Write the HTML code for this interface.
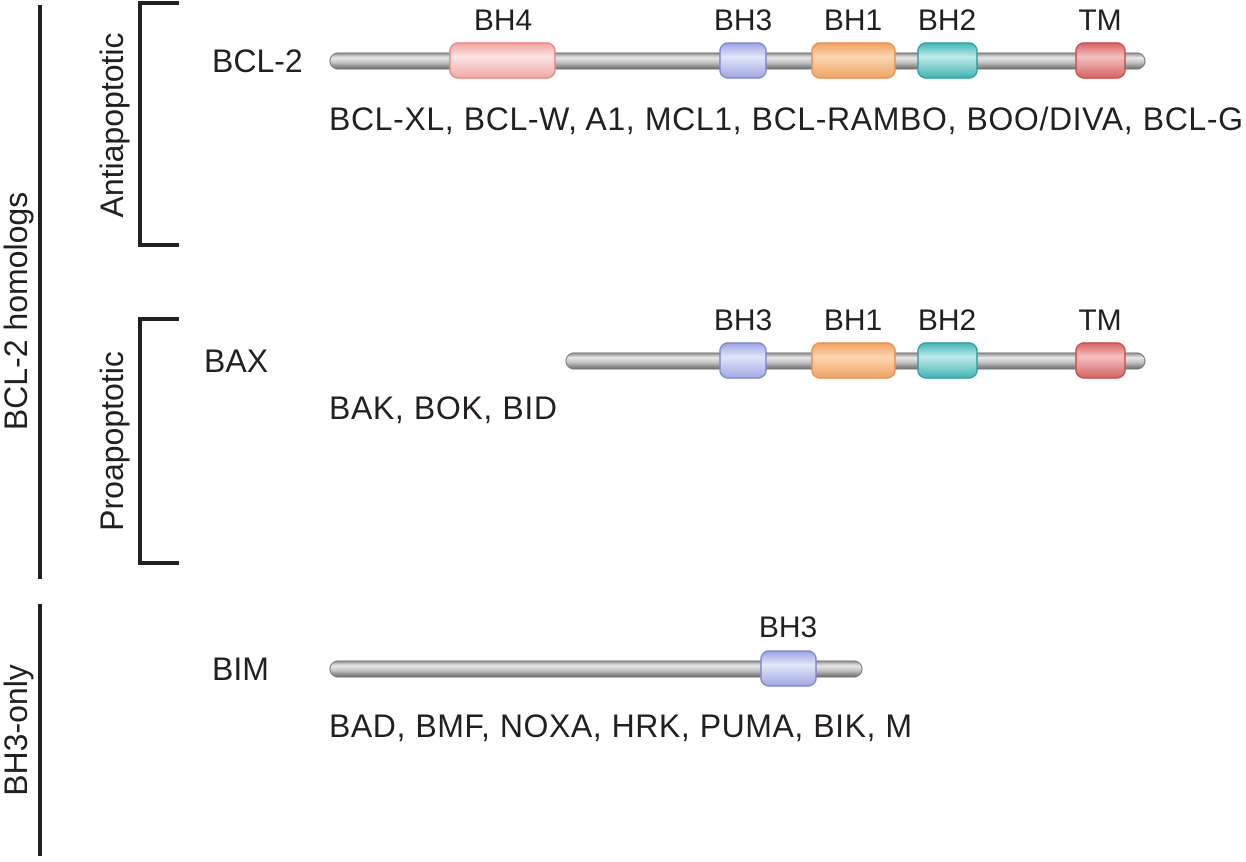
<!DOCTYPE html>
<html><head><style>
body{margin:0;background:#fff}
svg text{font-family:"Liberation Sans",sans-serif;fill:#231f20}
</style></head><body>
<svg width="1246" height="857" viewBox="0 0 1246 857" xmlns="http://www.w3.org/2000/svg">
<defs>
<linearGradient id="rod" x1="0" y1="0" x2="0" y2="1">
<stop offset="0" stop-color="#8a8a8a"/><stop offset="0.3" stop-color="#e8e8e8"/><stop offset="0.6" stop-color="#c4c4c4"/><stop offset="1" stop-color="#6e6e6e"/></linearGradient>
<linearGradient id="pk" x1="0" y1="0" x2="0" y2="1"><stop offset="0" stop-color="#f2a0a0"/><stop offset="0.4" stop-color="#fde4e4"/><stop offset="1" stop-color="#f0a8a8"/></linearGradient>
<linearGradient id="bl" x1="0" y1="0" x2="0" y2="1"><stop offset="0" stop-color="#9aa2e0"/><stop offset="0.4" stop-color="#e2e6fa"/><stop offset="1" stop-color="#a2a8e2"/></linearGradient>
<linearGradient id="or" x1="0" y1="0" x2="0" y2="1"><stop offset="0" stop-color="#f0a060"/><stop offset="0.4" stop-color="#fcd6b0"/><stop offset="1" stop-color="#f0a466"/></linearGradient>
<linearGradient id="tl" x1="0" y1="0" x2="0" y2="1"><stop offset="0" stop-color="#40b4b4"/><stop offset="0.4" stop-color="#bfeaea"/><stop offset="1" stop-color="#44b4b4"/></linearGradient>
<linearGradient id="rd" x1="0" y1="0" x2="0" y2="1"><stop offset="0" stop-color="#d86060"/><stop offset="0.4" stop-color="#f4c0c0"/><stop offset="1" stop-color="#d46464"/></linearGradient>
</defs>
<g stroke="#231f20" stroke-width="4" fill="none">
<line x1="40" y1="5" x2="40" y2="579"/>
<line x1="40" y1="604" x2="40" y2="856"/>
<polyline points="179,3 140,3 140,245 179,245"/>
<polyline points="179,319 140,319 140,563 179,563"/>
</g>
<text font-size="32" transform="translate(27,311) rotate(-90)" text-anchor="middle">BCL-2 homologs</text>
<text font-size="32" transform="translate(27,730) rotate(-90)" text-anchor="middle">BH3-only</text>
<text font-size="32" transform="translate(123,125) rotate(-90)" text-anchor="middle">Antiapoptotic</text>
<text font-size="32" transform="translate(123,441) rotate(-90)" text-anchor="middle">Proapoptotic</text>

<g font-size="32">
<text x="212" y="72">BCL-2</text>
<text x="204" y="372">BAX</text>
<text x="212" y="680">BIM</text>
<text x="329" y="130" textLength="914">BCL-XL, BCL-W, A1, MCL1, BCL-RAMBO, BOO/DIVA, BCL-G</text>
<text x="329" y="419" textLength="228">BAK, BOK, BID</text>
<text x="329" y="737" textLength="583">BAD, BMF, NOXA, HRK, PUMA, BIK, M</text>
</g>
<g font-size="30" text-anchor="middle">
<text x="503" y="30">BH4</text><text x="743" y="30">BH3</text><text x="853" y="30">BH1</text><text x="947" y="30">BH2</text><text x="1100" y="30">TM</text>
<text x="743" y="330">BH3</text><text x="853" y="330">BH1</text><text x="947" y="330">BH2</text><text x="1100" y="330">TM</text>
<text x="788" y="637">BH3</text>
</g>

<g stroke="#777" stroke-width="1">
<rect x="330" y="53" width="815" height="16" rx="8" fill="url(#rod)"/>
<rect x="566" y="353" width="579" height="16" rx="8" fill="url(#rod)"/>
<rect x="330" y="661" width="532" height="16" rx="8" fill="url(#rod)"/>
</g>
<g stroke-width="1.5">
<rect x="450" y="43" width="105" height="35" rx="8" fill="url(#pk)" stroke="#e88888"/>
<rect x="720" y="43" width="46" height="35" rx="8" fill="url(#bl)" stroke="#8088d0"/>
<rect x="812" y="43" width="83" height="35" rx="8" fill="url(#or)" stroke="#e89050"/>
<rect x="918" y="43" width="59" height="35" rx="8" fill="url(#tl)" stroke="#30a0a0"/>
<rect x="1076" y="43" width="49" height="35" rx="8" fill="url(#rd)" stroke="#c85050"/>
<rect x="720" y="343" width="46" height="35" rx="8" fill="url(#bl)" stroke="#8088d0"/>
<rect x="812" y="343" width="83" height="35" rx="8" fill="url(#or)" stroke="#e89050"/>
<rect x="918" y="343" width="59" height="35" rx="8" fill="url(#tl)" stroke="#30a0a0"/>
<rect x="1076" y="343" width="49" height="35" rx="8" fill="url(#rd)" stroke="#c85050"/>
<rect x="761" y="651" width="55" height="35" rx="8" fill="url(#bl)" stroke="#8088d0"/>
</g>
</svg>
</body></html>
